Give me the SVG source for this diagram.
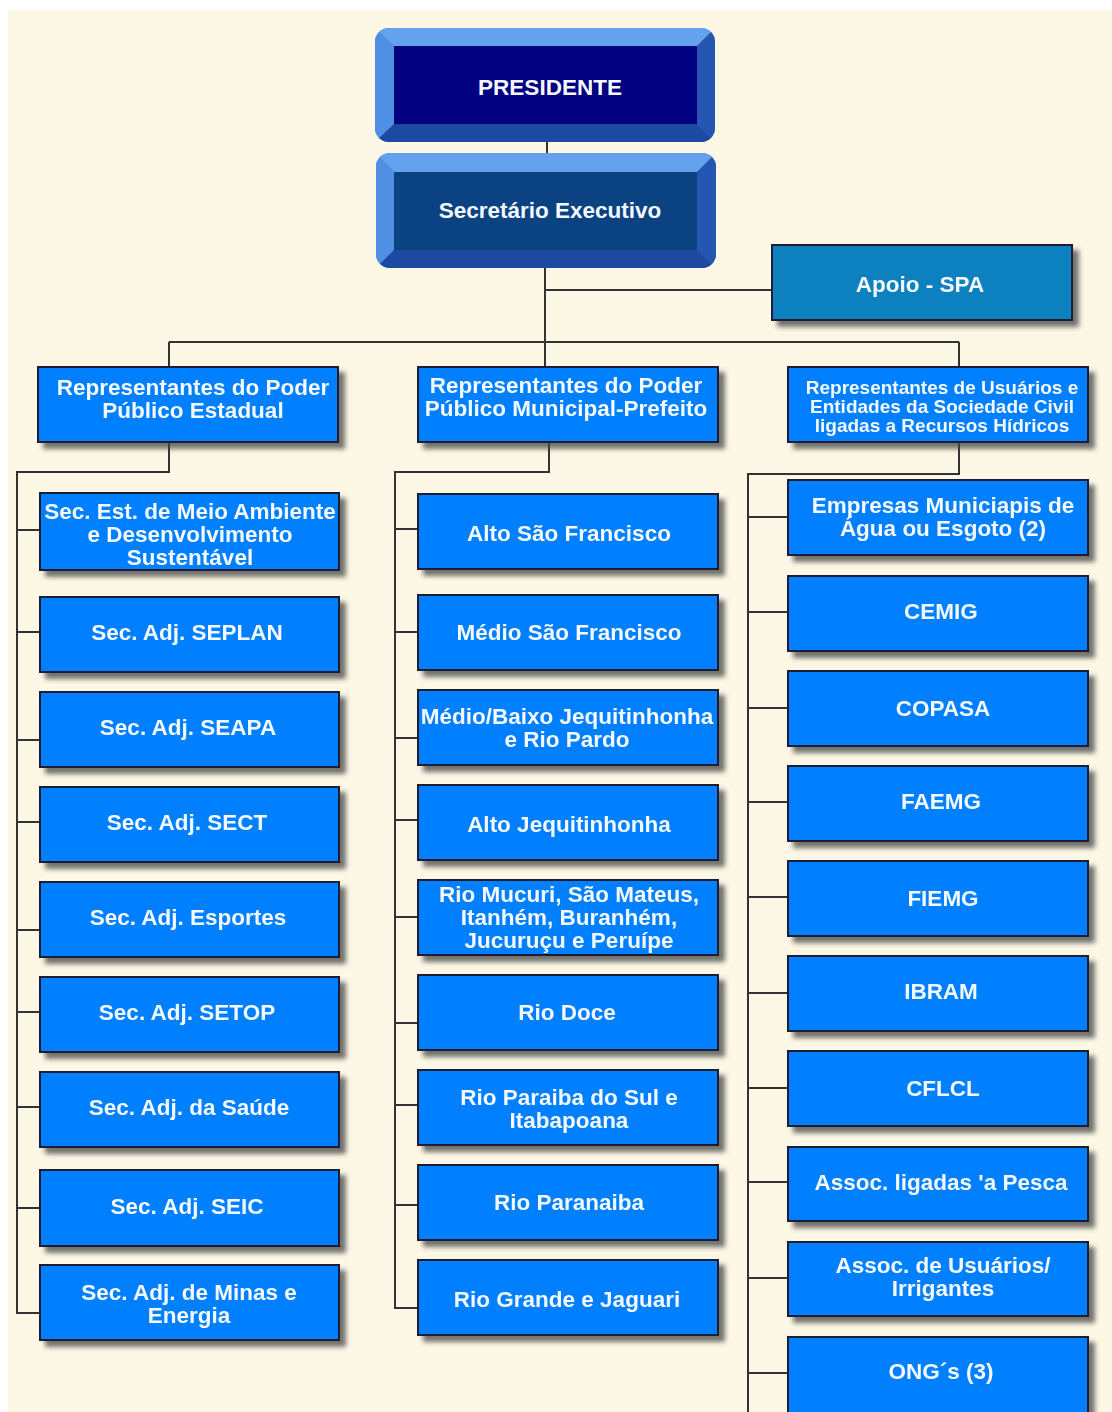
<svg xmlns="http://www.w3.org/2000/svg" width="1112" height="1412" viewBox="0 0 1112 1412">
<defs>
<style>
.bx{fill:#0080FF;stroke:#1a1a30;stroke-width:2}
.ap{fill:#1080C0;stroke:#1a1a30;stroke-width:2}
.t{font-family:"Liberation Sans",Arial,sans-serif;font-weight:bold;font-size:22.5px;fill:#F4F8FF;text-anchor:middle}
.ts{font-size:19px}
.cn{stroke:#333333;stroke-width:2;fill:none}
</style>
<filter id="sh" x="-10%" y="-10%" width="130%" height="140%">
<feDropShadow dx="6" dy="6" stdDeviation="2.5" flood-color="#444" flood-opacity="0.75"/>
</filter>
<clipPath id="c1"><rect x="375" y="28" width="340" height="114" rx="14"/></clipPath>
<clipPath id="c2"><rect x="376" y="153" width="340" height="115" rx="14"/></clipPath>
</defs>
<rect x="0" y="0" width="1112" height="1412" fill="#ffffff"/>
<rect x="8" y="10" width="1104" height="1402" fill="#FDF8E6"/>

<g id="connectors" class="cn">
<path d="M547 142V153"/>
<path d="M545 268V342"/>
<path d="M545 290H772"/>
<path d="M169 342H959"/>
<path d="M169 342V366M545 342V366M959 342V367"/>
<path d="M169 442V472H17V1313H40"/>
<path d="M17 530H40M17 632H40M17 740H40M17 822H40M17 930H40M17 1012H40M17 1107H40M17 1208H40"/>
<path d="M549 442V472H395V1308H418"/>
<path d="M395 529H418M395 632H418M395 738H418M395 820H418M395 917H418M395 1023H418M395 1105H418M395 1205H418"/>
<path d="M959 442V474H748V1412"/>
<path d="M748 517H788M748 612H788M748 708H788M748 802H788M748 897H788M748 993H788M748 1088H788M748 1182H788M748 1278H788M748 1373H788"/>
</g>

<g id="presidente">
<g clip-path="url(#c1)">
<rect x="375" y="28" width="340" height="114" fill="#3F7FD8"/>
<polygon points="375,28 715,28 697,46 394,46" fill="#62A2EE"/>
<polygon points="375,28 394,46 394,124 375,142" fill="#4F90E4"/>
<polygon points="715,28 715,142 697,124 697,46" fill="#2456B2"/>
<polygon points="375,142 394,124 697,124 715,142" fill="#1D4AA0"/>
</g>
<rect x="394" y="46" width="303" height="78" fill="#000080"/>
<text class="t" x="550" y="95">PRESIDENTE</text>
</g>

<g id="secretario">
<g clip-path="url(#c2)">
<rect x="376" y="153" width="340" height="115" fill="#3F7FD8"/>
<polygon points="376,153 716,153 697,172 394,172" fill="#62A2EE"/>
<polygon points="376,153 394,172 394,250 376,268" fill="#4F90E4"/>
<polygon points="716,153 716,268 697,250 697,172" fill="#2456B2"/>
<polygon points="376,268 394,250 697,250 716,268" fill="#1D4AA0"/>
</g>
<rect x="394" y="172" width="303" height="78" fill="#0A4282"/>
<text class="t" x="550" y="218">Secretário Executivo</text>
</g>

<g id="apoio" filter="url(#sh)">
<rect class="ap" x="772" y="245" width="300" height="75"/>
<text class="t" x="920" y="292">Apoio - SPA</text>
</g>

<g id="rep-estadual" filter="url(#sh)">
<rect class="bx" x="38" y="367" width="300" height="75"/>
<text class="t" x="193" y="395">Representantes do Poder<tspan x="193" y="418">Público Estadual</tspan></text>
</g>
<g id="rep-municipal" filter="url(#sh)">
<rect class="bx" x="418" y="367" width="300" height="75"/>
<text class="t" x="566" y="393">Representantes do Poder<tspan x="566" y="416">Público Municipal-Prefeito</tspan></text>
</g>
<g id="rep-usuarios" filter="url(#sh)">
<rect class="bx" x="788" y="367" width="300" height="75"/>
<text class="t ts" x="942" y="394">Representantes de Usuários e<tspan x="942" y="413">Entidades da Sociedade Civil</tspan><tspan x="942" y="432">ligadas a Recursos Hídricos</tspan></text>
</g>

<g id="sec-est-meio-ambiente" filter="url(#sh)">
<rect class="bx" x="40" y="493" width="299" height="77"/>
<text class="t" x="190" y="519">Sec. Est. de Meio Ambiente<tspan x="190" y="542">e Desenvolvimento</tspan><tspan x="190" y="565">Sustentável</tspan></text>
</g>
<g id="seplan" filter="url(#sh)">
<rect class="bx" x="40" y="597" width="299" height="75"/>
<text class="t" x="187" y="640">Sec. Adj. SEPLAN</text>
</g>
<g id="seapa" filter="url(#sh)">
<rect class="bx" x="40" y="692" width="299" height="75"/>
<text class="t" x="188" y="735">Sec. Adj. SEAPA</text>
</g>
<g id="sect" filter="url(#sh)">
<rect class="bx" x="40" y="787" width="299" height="75"/>
<text class="t" x="187" y="830">Sec. Adj. SECT</text>
</g>
<g id="esportes" filter="url(#sh)">
<rect class="bx" x="40" y="882" width="299" height="75"/>
<text class="t" x="188" y="925">Sec. Adj. Esportes</text>
</g>
<g id="setop" filter="url(#sh)">
<rect class="bx" x="40" y="977" width="299" height="75"/>
<text class="t" x="187" y="1020">Sec. Adj. SETOP</text>
</g>
<g id="saude" filter="url(#sh)">
<rect class="bx" x="40" y="1072" width="299" height="75"/>
<text class="t" x="189" y="1115">Sec. Adj. da Saúde</text>
</g>
<g id="seic" filter="url(#sh)">
<rect class="bx" x="40" y="1170" width="299" height="76"/>
<text class="t" x="187" y="1214">Sec. Adj. SEIC</text>
</g>
<g id="minas-energia" filter="url(#sh)">
<rect class="bx" x="40" y="1265" width="299" height="75"/>
<text class="t" x="189" y="1300">Sec. Adj. de Minas e<tspan x="189" y="1323">Energia</tspan></text>
</g>

<g id="alto-sao-francisco" filter="url(#sh)">
<rect class="bx" x="418" y="494" width="300" height="75"/>
<text class="t" x="569" y="541">Alto São Francisco</text>
</g>
<g id="medio-sao-francisco" filter="url(#sh)">
<rect class="bx" x="418" y="595" width="300" height="75"/>
<text class="t" x="569" y="640">Médio São Francisco</text>
</g>
<g id="medio-baixo-jequitinhonha" filter="url(#sh)">
<rect class="bx" x="418" y="690" width="300" height="75"/>
<text class="t" x="567" y="724">Médio/Baixo Jequitinhonha<tspan x="567" y="747">e Rio Pardo</tspan></text>
</g>
<g id="alto-jequitinhonha" filter="url(#sh)">
<rect class="bx" x="418" y="785" width="300" height="75"/>
<text class="t" x="569" y="832">Alto Jequitinhonha</text>
</g>
<g id="rio-mucuri" filter="url(#sh)">
<rect class="bx" x="418" y="880" width="300" height="75"/>
<text class="t" x="569" y="902">Rio Mucuri, São Mateus,<tspan x="569" y="925">Itanhém, Buranhém,</tspan><tspan x="569" y="948">Jucuruçu e Peruípe</tspan></text>
</g>
<g id="rio-doce" filter="url(#sh)">
<rect class="bx" x="418" y="975" width="300" height="75"/>
<text class="t" x="567" y="1020">Rio Doce</text>
</g>
<g id="rio-paraiba" filter="url(#sh)">
<rect class="bx" x="418" y="1070" width="300" height="75"/>
<text class="t" x="569" y="1105">Rio Paraiba do Sul e<tspan x="569" y="1128">Itabapoana</tspan></text>
</g>
<g id="rio-paranaiba" filter="url(#sh)">
<rect class="bx" x="418" y="1165" width="300" height="75"/>
<text class="t" x="569" y="1210">Rio Paranaiba</text>
</g>
<g id="rio-grande" filter="url(#sh)">
<rect class="bx" x="418" y="1260" width="300" height="75"/>
<text class="t" x="567" y="1307">Rio Grande e Jaguari</text>
</g>

<g id="empresas-municipais" filter="url(#sh)">
<rect class="bx" x="788" y="480" width="300" height="75"/>
<text class="t" x="943" y="513">Empresas Municiapis de<tspan x="943" y="536">Água ou Esgoto (2)</tspan></text>
</g>
<g id="cemig" filter="url(#sh)">
<rect class="bx" x="788" y="576" width="300" height="75"/>
<text class="t" x="941" y="619">CEMIG</text>
</g>
<g id="copasa" filter="url(#sh)">
<rect class="bx" x="788" y="671" width="300" height="75"/>
<text class="t" x="943" y="716">COPASA</text>
</g>
<g id="faemg" filter="url(#sh)">
<rect class="bx" x="788" y="766" width="300" height="75"/>
<text class="t" x="941" y="809">FAEMG</text>
</g>
<g id="fiemg" filter="url(#sh)">
<rect class="bx" x="788" y="861" width="300" height="75"/>
<text class="t" x="943" y="906">FIEMG</text>
</g>
<g id="ibram" filter="url(#sh)">
<rect class="bx" x="788" y="956" width="300" height="75"/>
<text class="t" x="941" y="999">IBRAM</text>
</g>
<g id="cflcl" filter="url(#sh)">
<rect class="bx" x="788" y="1051" width="300" height="75"/>
<text class="t" x="943" y="1096">CFLCL</text>
</g>
<g id="assoc-pesca" filter="url(#sh)">
<rect class="bx" x="788" y="1147" width="300" height="74"/>
<text class="t" x="941" y="1190">Assoc. ligadas 'a Pesca</text>
</g>
<g id="assoc-usuarios" filter="url(#sh)">
<rect class="bx" x="788" y="1242" width="300" height="74"/>
<text class="t" x="943" y="1273">Assoc. de Usuários/<tspan x="943" y="1296">Irrigantes</tspan></text>
</g>
<g id="ongs" filter="url(#sh)">
<rect class="bx" x="788" y="1337" width="300" height="76"/>
<text class="t" x="941" y="1379">ONG´s (3)</text>
</g>
</svg>
